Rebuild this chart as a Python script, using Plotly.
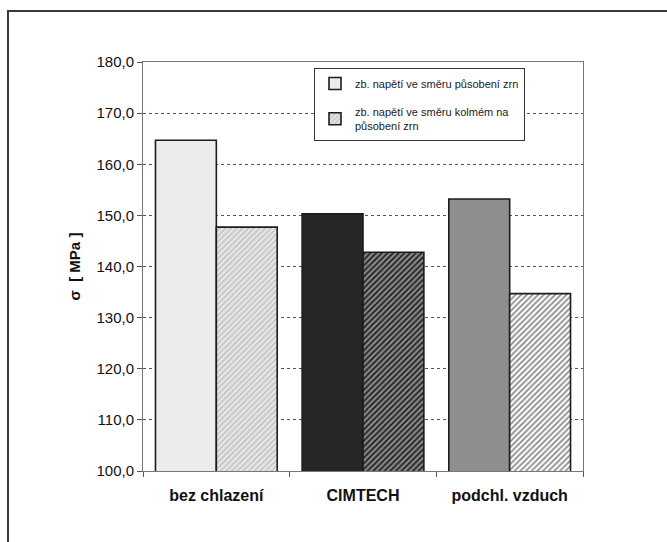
import plotly.graph_objects as go

# Residual stress by cooling method
categories = ["bez chlazení", "CIMTECH", "podchl. vzduch"]
series_names = ["zb. napětí ve směru působení zrn",
                "zb. napětí ve směru kolmém na<br>působení zrn"]
stress_parallel = [164.7, 150.3, 153.2]
stress_perpendicular = [147.7, 142.8, 134.7]
tick_values = [100, 110, 120, 130, 140, 150, 160, 170, 180]
tick_labels = ["100,0", "110,0", "120,0", "130,0", "140,0",
               "150,0", "160,0", "170,0", "180,0"]

solid_colors = ["#ececec", "#262626", "#8e8e8e"]
hatch_bg = ["#e8e8e8", "#8a8a8a", "#ffffff"]
hatch_fg = ["#c4c4c4", "#1e1e1e", "#8a8a8a"]
outline = dict(color="#1c1c1c", width=1.6)

fig = go.Figure()
# one trace per bar so each can carry its own fill / hatch
for i, cat in enumerate(categories):
    fig.add_trace(go.Bar(
        x=[cat], y=[stress_parallel[i]], name=series_names[0],
        offsetgroup="parallel", legendgroup="a", showlegend=(i == 0),
        marker=dict(color=solid_colors[i], line=outline),
    ))
for i, cat in enumerate(categories):
    fig.add_trace(go.Bar(
        x=[cat], y=[stress_perpendicular[i]], name=series_names[1],
        offsetgroup="perpendicular", legendgroup="b", showlegend=(i == 0),
        marker=dict(color=hatch_bg[i], line=outline,
                    pattern=dict(shape="/", bgcolor=hatch_bg[i], fgcolor=hatch_fg[i],
                                 size=4, solidity=0.45, fillmode="replace")),
    ))

# Frame around the whole figure (open at right and bottom)
fig.add_shape(type="line", xref="paper", yref="paper",
              x0=-136 / 440, x1=530 / 440, y0=(471 - 11) / 409, y1=(471 - 11) / 409,
              line=dict(color="#3a3a3a", width=2))
fig.add_shape(type="line", xref="paper", yref="paper",
              x0=-135 / 440, x1=-135 / 440, y0=(471 - 11) / 409, y1=-80 / 409,
              line=dict(color="#3a3a3a", width=2))

fig.update_layout(
    width=667, height=542,
    margin=dict(l=143, r=84, t=62, b=71),
    paper_bgcolor="white", plot_bgcolor="white",
    barmode="group", bargap=0.17, bargroupgap=0,
    font=dict(family="Liberation Sans, Arial, sans-serif", color="#111"),
    legend=dict(
        x=(314 - 143) / 440, y=(471 - 68) / 409, xanchor="left", yanchor="top",
        bgcolor="white", bordercolor="#333", borderwidth=1,
        font=dict(size=11, color="#222"),
        traceorder="grouped", tracegroupgap=10,
        itemwidth=30,
    ),
    showlegend=True,
)
fig.update_yaxes(
    range=[100, 180], tickvals=tick_values, ticktext=tick_labels,
    tickfont=dict(size=15, color="#111"),
    ticks="outside", ticklen=5, tickcolor="#555",
    showline=True, linecolor="#777", linewidth=1, mirror=True,
    showgrid=True, gridcolor="#555", griddash="dot", gridwidth=1,
    zeroline=False,
    title=dict(text="<b>σ  [ MPa ]</b>", font=dict(size=15, color="#111"), standoff=12),
)
fig.update_xaxes(
    tickfont=dict(size=16, color="#111"),
    tickprefix="<b>", ticksuffix="</b>",
    ticks="outside", ticklen=5, tickcolor="#555", tickson="boundaries",
    ticklabelstandoff=10,
    showline=True, linecolor="#777", linewidth=1, mirror=True,
    showgrid=False,
)

fig.write_html("out.html")
